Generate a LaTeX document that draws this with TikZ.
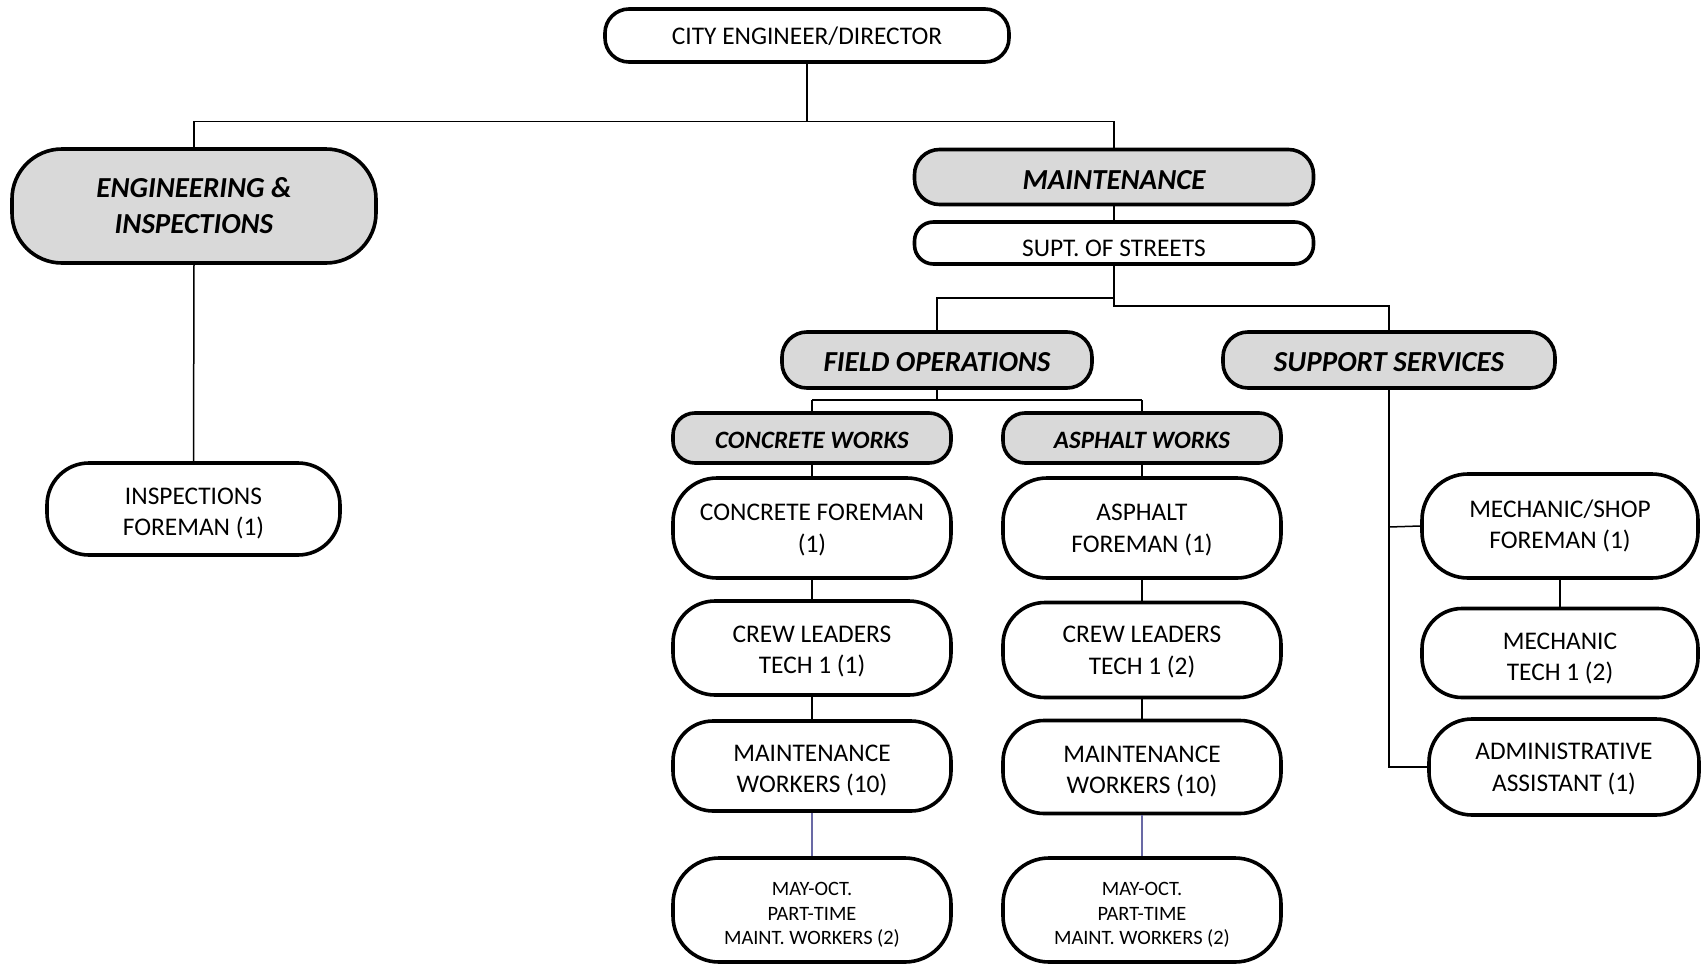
\documentclass[tikz,border=0pt]{standalone}
\usepackage{fontspec}
\setmainfont{Carlito}
\definecolor{boxgrey}{HTML}{D9D9D9}
\definecolor{linkblue}{RGB}{105,105,165}
\tikzset{
  base/.style={draw, line width=3.6pt, inner sep=0pt, fill=white},
  grey/.style={base, fill=boxgrey},
  ltxt/.style={align=center, inner sep=0pt, font=\fontsize{25.4}{31.5}\selectfont},
  lgrey/.style={ltxt, font=\fontsize{29}{36}\selectfont\bfseries\itshape},
  lsub/.style={ltxt, font=\fontsize{25}{30}\selectfont\bfseries\itshape},
  lsmall/.style={ltxt, font=\fontsize{20.4}{24.5}\selectfont},
  tx/.style n args={3}{label={[#1, yshift=-#2pt]center:{#3}}},
  link/.style={line width=1.5pt},
}
\begin{document}
\begin{tikzpicture}[x=1pt,y=-1pt]
\useasboundingbox (0,0) rectangle (1701,964);
% nodes
\node[base, minimum width=404, minimum height=53, rounded corners=24, tx={ltxt}{1}{CITY ENGINEER/DIRECTOR}] (dir) at (807,35.5) {};
\node[grey, minimum width=364, minimum height=114, rounded corners=50, tx={lgrey}{0}{ENGINEERING \&\\INSPECTIONS}] (ei) at (194,206) {};
\node[base, minimum width=293, minimum height=92, rounded corners=42, tx={ltxt}{4.3}{INSPECTIONS\\FOREMAN (1)}] (insp) at (193.5,509) {};
\node[grey, minimum width=399, minimum height=55, rounded corners=25, tx={lgrey}{3.3}{MAINTENANCE}] (maint) at (1114,177) {};
\node[base, minimum width=399, minimum height=42, rounded corners=19, tx={ltxt}{5.4}{SUPT. OF STREETS}] (supt) at (1114,243) {};
\node[grey, minimum width=310, minimum height=56, rounded corners=25, tx={lgrey}{2.2}{FIELD OPERATIONS}] (fo) at (937,360) {};
\node[grey, minimum width=332, minimum height=56, rounded corners=25, tx={lgrey}{2.2}{SUPPORT SERVICES}] (ss) at (1389,360) {};
\node[grey, minimum width=278, minimum height=50, rounded corners=22, tx={lsub}{2.2}{CONCRETE WORKS}] (cw) at (812,438) {};
\node[grey, minimum width=278, minimum height=50, rounded corners=22, tx={lsub}{2.2}{ASPHALT WORKS}] (aw) at (1142,438) {};
\node[base, minimum width=278, minimum height=100, rounded corners=44, tx={ltxt}{2.2}{CONCRETE FOREMAN\\(1)}] (cf) at (812,528) {};
\node[base, minimum width=278, minimum height=94, rounded corners=42, tx={ltxt}{3.3}{CREW LEADERS\\TECH 1 (1)}] (cl) at (812,648) {};
\node[base, minimum width=278, minimum height=90, rounded corners=40, tx={ltxt}{4.3}{MAINTENANCE\\WORKERS (10)}] (cm) at (812,766) {};
\node[base, minimum width=278, minimum height=104, rounded corners=46, tx={lsmall}{4.9}{MAY-OCT.\\PART-TIME\\MAINT. WORKERS (2)}] (cp) at (812,910) {};
\node[base, minimum width=278, minimum height=100, rounded corners=44, tx={ltxt}{2.2}{ASPHALT\\FOREMAN (1)}] (af) at (1142,528) {};
\node[base, minimum width=278, minimum height=95, rounded corners=42, tx={ltxt}{2.2}{CREW LEADERS\\TECH 1 (2)}] (al) at (1142,650) {};
\node[base, minimum width=278, minimum height=93, rounded corners=41, tx={ltxt}{4.3}{MAINTENANCE\\WORKERS (10)}] (am) at (1142,767) {};
\node[base, minimum width=278, minimum height=104, rounded corners=46, tx={lsmall}{4.9}{MAY-OCT.\\PART-TIME\\MAINT. WORKERS (2)}] (ap) at (1142,910) {};
\node[base, minimum width=276, minimum height=104, rounded corners=46, tx={ltxt}{0}{MECHANIC/SHOP\\FOREMAN (1)}] (mf) at (1560,526) {};
\node[base, minimum width=276, minimum height=89, rounded corners=40, tx={ltxt}{5.4}{MECHANIC\\TECH 1 (2)}] (mt) at (1560,653) {};
\node[base, minimum width=270, minimum height=96, rounded corners=43, tx={ltxt}{2.2}{ADMINISTRATIVE\\ASSISTANT (1)}] (adm) at (1564,767) {};
% junction coordinates
\coordinate (b1) at (807,121.5);
\coordinate (b1l) at (194,121.5);
\coordinate (b1r) at (1114,121.5);
\coordinate (b2) at (1114,298);
\coordinate (b2l) at (937,298);
\coordinate (b3) at (1114,306);
\coordinate (b3r) at (1389,306);
\coordinate (b4) at (937,400);
\coordinate (b4l) at (812,400);
\coordinate (b4r) at (1142,400);
\coordinate (s1) at (1389,527);
\coordinate (s2) at (1389,767);
% connectors
\draw[link] (dir.south) -- (b1);
\draw[link] (ei.north) -- (b1l) -- (b1r) -- (maint.north);
\draw[link] (ei.south) -- (insp.north);
\draw[link] (maint.south) -- (supt.north);
\draw[link] (supt.south) -- (b2) -- (b3) -- (b3r) -- (ss.north);
\draw[link] (b2) -- (b2l) -- (fo.north);
\draw[link] (fo.south) -- (b4);
\draw[link] (b4l) -- (b4r);
\draw[link] (b4l) -- (cw.north);
\draw[link] (b4r) -- (aw.north);
\draw[link] (cw.south) -- (cf.north);
\draw[link] (cf.south) -- (cl.north);
\draw[link] (cl.south) -- (cm.north);
\draw[link, linkblue] (cm.south) -- (cp.north);
\draw[link] (aw.south) -- (af.north);
\draw[link] (af.south) -- (al.north);
\draw[link] (al.south) -- (am.north);
\draw[link, linkblue] (am.south) -- (ap.north);
\draw[link] (ss.south) -- (s1) -- (s2) -- (adm.west);
\draw[link] (s1) -- (mf.west);
\draw[link] (mf.south) -- (mt.north);
\end{tikzpicture}
\end{document}
